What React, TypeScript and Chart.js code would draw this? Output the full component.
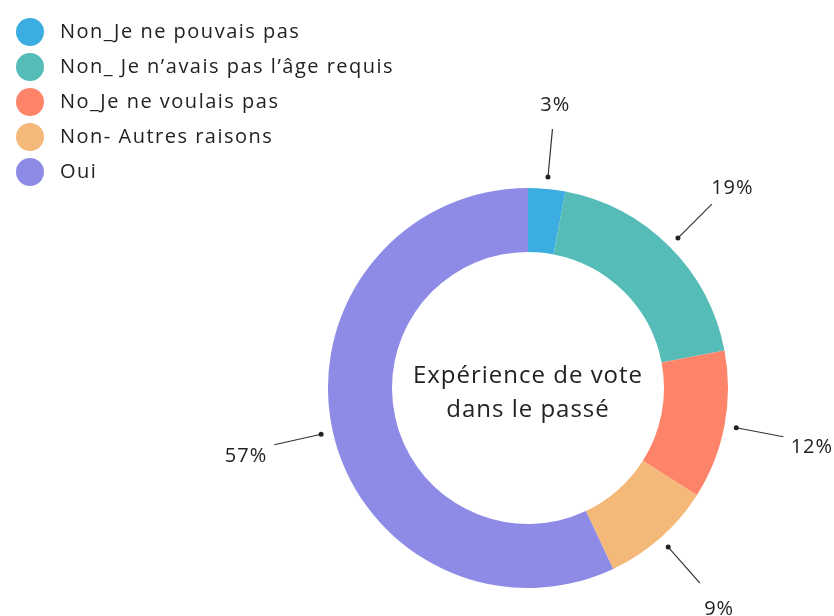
import React, { useEffect, useRef } from "react";
import { Chart, registerables } from "chart.js";

Chart.register(...registerables);

const categories = [
  "Non_Je ne pouvais pas",
  "Non_ Je n\u2019avais pas l\u2019âge requis",
  "No_Je ne voulais pas",
  "Non- Autres raisons",
  "Oui",
];
const values = [3, 19, 12, 9, 57];
const percentLabels = ["3%", "19%", "12%", "9%", "57%"];
const colors = ["#3cade0", "#56bcb8", "#fd8469", "#f4b878", "#8e8be6"];
const centerLines = ["Expérience de vote", "dans le passé"];

const FONT = "'Open Sans', sans-serif";

const decorPlugin = {
  id: "decor",
  afterDatasetsDraw(chart: any) {
    const ctx = chart.ctx;
    const meta = chart.getDatasetMeta(0);
    ctx.save();
    meta.data.forEach((arc: any, i: number) => {
      const mid = (arc.startAngle + arc.endAngle) / 2;
      const R = arc.outerRadius;
      const cx = arc.x;
      const cy = arc.y;
      const p = (r: number) => [cx + Math.cos(mid) * r, cy + Math.sin(mid) * r];
      const [x1, y1] = p(R + 12);
      const [x2, y2] = p(R + 60);
      const [lx, ly] = p(R + 89);
      ctx.strokeStyle = "#333";
      ctx.lineWidth = 1.2;
      ctx.beginPath();
      ctx.moveTo(x1, y1);
      ctx.lineTo(x2, y2);
      ctx.stroke();
      ctx.fillStyle = "#222";
      ctx.beginPath();
      ctx.arc(x1, y1, 2.5, 0, Math.PI * 2);
      ctx.fill();
      ctx.font = `20px ${FONT}`;
      (ctx as any).letterSpacing = "1px";
      ctx.textAlign = "center";
      ctx.textBaseline = "middle";
      ctx.fillText(percentLabels[i], lx, ly + 5);
    });
    const a0 = meta.data[0];
    ctx.fillStyle = "#222";
    ctx.font = `24px ${FONT}`;
    (ctx as any).letterSpacing = "1px";
    ctx.textAlign = "center";
    ctx.textBaseline = "middle";
    ctx.fillText(centerLines[0], a0.x, a0.y - 12);
    ctx.fillText(centerLines[1], a0.x, a0.y + 22);
    ctx.font = `20px ${FONT}`;
    (ctx as any).letterSpacing = "1.5px";
    ctx.textAlign = "left";
    categories.forEach((c, i) => {
      const y = 32 + i * 35;
      ctx.fillStyle = colors[i];
      ctx.beginPath();
      ctx.arc(30, y, 14, 0, Math.PI * 2);
      ctx.fill();
      ctx.fillStyle = "#222";
      ctx.fillText(c, 60, y);
    });
    ctx.restore();
  },
};

export default function App() {
  const ref = useRef<HTMLCanvasElement>(null);
  useEffect(() => {
    if (!ref.current) return;
    const chart = new Chart(ref.current, {
      type: "doughnut",
      data: {
        labels: categories,
        datasets: [
          {
            data: values,
            backgroundColor: colors,
            borderWidth: 0,
          },
        ],
      },
      options: {
        responsive: false,
        animation: false,
        cutout: "68%",
        layout: { padding: { left: 328, right: 106, top: 188, bottom: 28 } },
        plugins: {
          legend: { display: false },
          tooltip: { enabled: false },
        },
      },
      plugins: [decorPlugin],
    });
    return () => chart.destroy();
  }, []);
  return (
    <div style={{ position: "absolute", left: 0, top: 0, width: 834, height: 616, background: "#fff" }}>
      <canvas ref={ref} width={834} height={616} />
    </div>
  );
}
